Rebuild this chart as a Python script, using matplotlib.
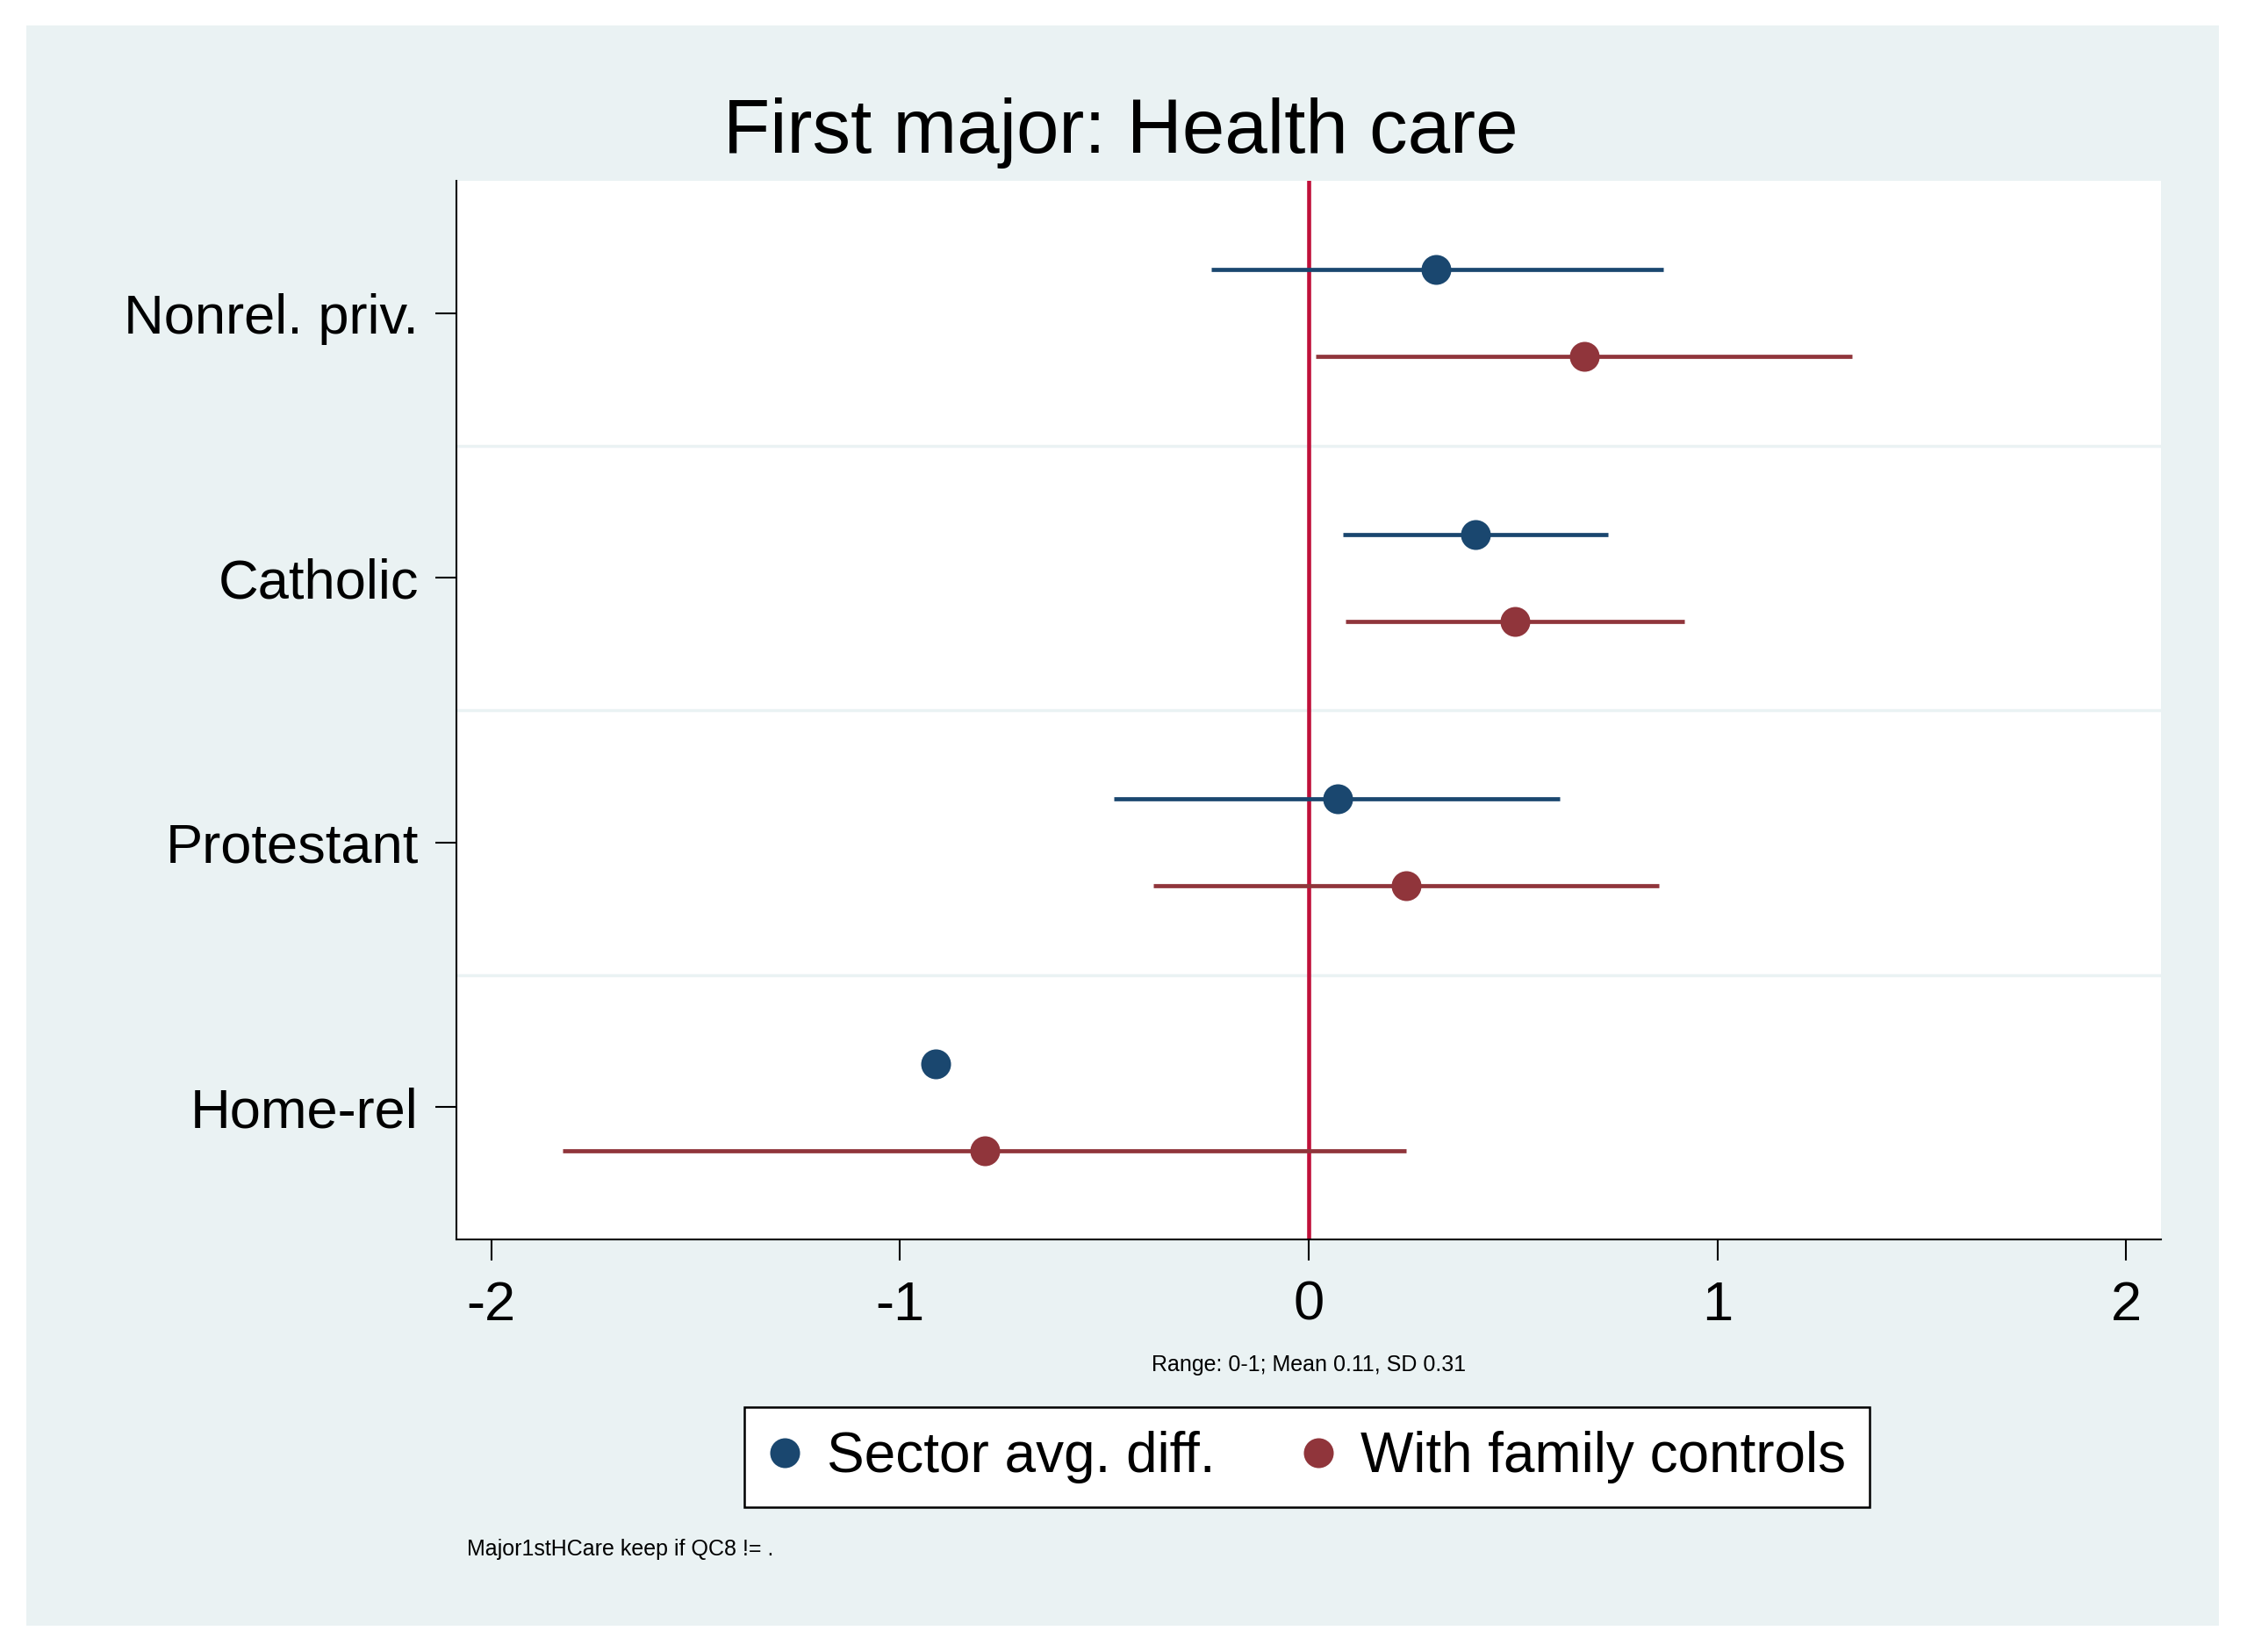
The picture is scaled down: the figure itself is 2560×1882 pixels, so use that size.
import matplotlib
matplotlib.use("Agg")
import matplotlib.pyplot as plt
from matplotlib.patches import Rectangle
from matplotlib.lines import Line2D
import numpy as np

plt.rcParams['font.family'] = ['Liberation Sans', 'DejaVu Sans']

categories = ["Nonrel. priv.", "Catholic", "Protestant", "Home-rel"]
sector_est = [0.312, 0.407, 0.070, -0.912]
sector_lo = [-0.239, 0.084, -0.477, np.nan]
sector_hi = [0.867, 0.733, 0.614, np.nan]
family_est = [0.674, 0.505, 0.239, -0.793]
family_lo = [0.018, 0.091, -0.379, -1.825]
family_hi = [1.330, 0.919, 0.856, 0.239]
xticks = [-2, -1, 0, 1, 2]
series_labels = ["Sector avg. diff.", "With family controls"]

BLUE = "#1A476F"
RED = "#90353B"
VLINE = "#C0103A"
BG = "#EAF2F3"

W, H = 2560, 1882
fig = plt.figure(figsize=(W / 100, H / 100), dpi=100, facecolor="white")
fig.patches.append(Rectangle((30 / W, 1 - 1852 / H), (2528 - 30) / W, (1852 - 29) / H,
                             transform=fig.transFigure, facecolor=BG, edgecolor="none", zorder=-10))

left, right = 520 / W, 2462 / W
bottom, top = 1 - 1412 / H, 1 - 206 / H
ax = fig.add_axes([left, bottom, right - left, top - bottom])
ax.set_facecolor("white")

n = len(categories)
ypos = np.arange(n, 0, -1)
off = 0.165

for yy in [1.5, 2.5, 3.5]:
    ax.axhline(yy, color=BG, lw=2.5, zorder=1)

ax.axvline(0, color=VLINE, lw=3.3, zorder=2)

for i in range(n):
    yb = ypos[i] + off
    yr = ypos[i] - off
    if not np.isnan(sector_lo[i]):
        ax.plot([sector_lo[i], sector_hi[i]], [yb, yb], color=BLUE, lw=3.4, zorder=3, solid_capstyle="butt")
    if not np.isnan(family_lo[i]):
        ax.plot([family_lo[i], family_hi[i]], [yr, yr], color=RED, lw=3.4, zorder=3, solid_capstyle="butt")
ax.plot(sector_est, ypos + off, "o", color=BLUE, ms=24.5, mec="none", zorder=4, linestyle="none")
ax.plot(family_est, ypos - off, "o", color=RED, ms=24.5, mec="none", zorder=4, linestyle="none")

ax.set_xlim(-2.085, 2.085)
ax.set_ylim(0.5, 4.5)
ax.set_xticks(xticks)
ax.set_xticklabels([str(t) for t in xticks])
ax.set_yticks(ypos)
ax.set_yticklabels(categories)
ax.tick_params(axis="both", labelsize=45.5, length=17, width=1.5, color="black", direction="out")
ax.tick_params(axis="y", pad=14)
ax.tick_params(axis="x", pad=16)
for s in ["top", "right"]:
    ax.spines[s].set_visible(False)
for s in ["left", "bottom"]:
    ax.spines[s].set_linewidth(1.5)
    ax.spines[s].set_color("black")

fig.text(1277 / W, 1 - 152 / H, "First major: Health care", ha="center", va="center", fontsize=62.7)
cx = (left + right) / 2
fig.text(cx, 1 - 1555 / H, "Range: 0-1; Mean 0.11, SD 0.31", ha="center", va="center", fontsize=18)
fig.text(532 / W, 1 - 1765 / H, "Major1stHCare keep if QC8 != .", ha="left", va="center", fontsize=18)

handles = [Line2D([], [], marker="o", color=BLUE, ms=24.5, mec="none", linestyle="none"),
           Line2D([], [], marker="o", color=RED, ms=24.5, mec="none", linestyle="none")]
leg = fig.legend(handles, series_labels, loc="center", bbox_to_anchor=(cx - 2 / W, 1 - 1660 / H),
                 ncol=2, fontsize=46, frameon=True, fancybox=False, edgecolor="black",
                 facecolor="white", framealpha=1, handlelength=0.6, handletextpad=0.45,
                 columnspacing=1.55, borderpad=0.42, borderaxespad=0)
leg.get_frame().set_linewidth(1.8)

fig.savefig("out.png", dpi=100, facecolor="white")
